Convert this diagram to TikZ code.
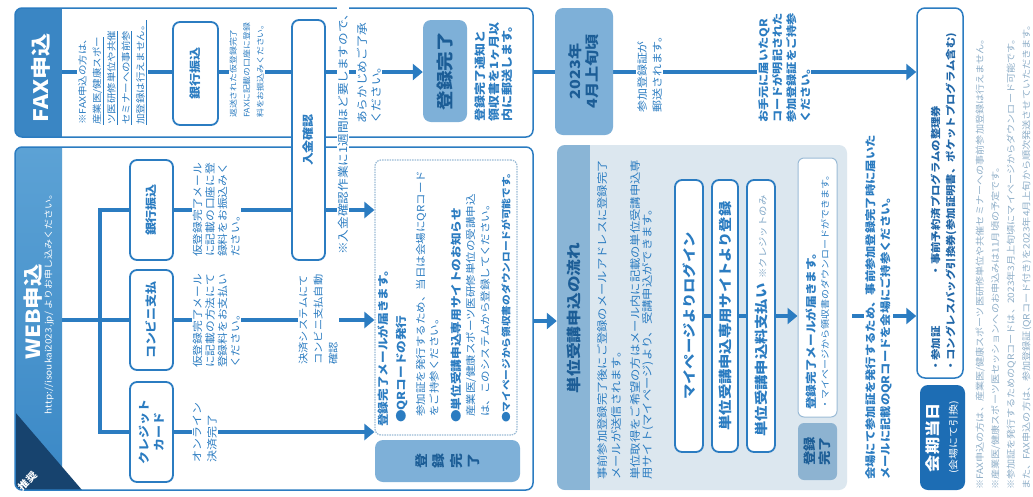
\documentclass[tikz,border=0pt]{standalone}
\usepackage{fontspec}
\setmainfont{Noto Sans CJK JP}[FakeStretch=1.15]
\usetikzlibrary{arrows.meta}
\definecolor{cblue}{HTML}{2B7CC1}
\definecolor{cdark}{HTML}{1C5D96}
\definecolor{cdarkb}{HTML}{2167A8}
\definecolor{cmed}{HTML}{7EB0D8}
\definecolor{cmedb}{HTML}{8DB3D1}
\definecolor{cpanel}{HTML}{DCE7EF}
\definecolor{cthead}{HTML}{8AB5D6}
\definecolor{cfax}{HTML}{3A86C4}
\definecolor{cwebtop}{HTML}{5CA2D5}
\definecolor{cwebbot}{HTML}{3A88C6}
\definecolor{cnavy}{HTML}{17436E}
\definecolor{ckaiki}{HTML}{1D6DB4}
\definecolor{cnote}{HTML}{8EAEC8}
\definecolor{cdot}{HTML}{9BBBD6}
\definecolor{cgray}{HTML}{7FA6C6}
\newcommand\fsz[2]{\fontsize{#1}{#2}\selectfont}
\pgfdeclarelayer{back}
\pgfdeclarelayer{lines}
\pgfsetlayers{back,lines,main}
\tikzset{
  conn/.style={draw=cblue, line width=4.5pt},
  arr/.style={conn, -{Triangle[length=10pt,width=16pt]}},
  para/.style={rotate=90, anchor=north west, inner sep=1pt, align=left, text=cblue, fill=white},
  ln/.style={rotate=90, anchor=west, inner sep=0pt, text=cblue},
  rbox/.style={rotate=90, draw=cblue, line width=1.8pt, rounded corners=7pt, fill=white, text=cblue, font=\fsz{11.3}{15}\bfseries, align=center, inner sep=0pt},
  fbox/.style={rotate=90, fill=cmed, rounded corners=8pt, text=cdark, align=center, inner sep=0pt},
  panel/.style={draw=cblue, line width=1.5pt, rounded corners=7pt, inner sep=0pt},
}
\begin{document}
\begin{tikzpicture}[x=1pt,y=-1pt]
\useasboundingbox (0,0) rectangle (1033,496);
\begin{pgfonlayer}{back}
\fill[white] (0,0) rectangle (1033,496);
% FAX header
\begin{scope}
 \clip[rounded corners=7pt] (15,8) rectangle (533,137);
 \node[fill=cfax, minimum width=47pt, minimum height=129pt, inner sep=0pt] (faxhead) at (38.5,72.5) {};
\end{scope}
% WEB header
\begin{scope}
 \clip[rounded corners=7pt] (15,147) rectangle (533,490);
 \node[top color=cwebtop, bottom color=cwebbot, minimum width=47pt, minimum height=343pt, inner sep=0pt] (webhead) at (38.5,318.5) {};
 \fill[cnavy] (15,412) -- (15,490) -- (82,490) -- cycle;
\end{scope}
% tani panel
\fill[cpanel, rounded corners=8pt] (557,145) rectangle (847,490);
\begin{scope}
 \clip[rounded corners=8pt] (557,145) rectangle (847,490);
 \fill[cthead] (557,145) rectangle (590,490);
\end{scope}
\end{pgfonlayer}

\coordinate (yfax) at (0,72);
\coordinate (ykon) at (0,321);
\coordinate (wjunc) at (100,320);

% panels
\node[panel, minimum width=518pt, minimum height=129pt] (faxpanel) at (274,72.5) {};
\node[panel, minimum width=518pt, minimum height=343pt] (webpanel) at (274,318.5) {};
\node[minimum width=290pt, minimum height=345pt, inner sep=0pt] (tanipanel) at (702,317.5) {};

% header texts
\node[rotate=90, text=white, font=\fsz{20}{22}\bfseries] (faxheadtxt) at (41,78) {FAX申込};
\node[rotate=90, text=white, font=\fsz{19.5}{22}\bfseries] (webheadtxt) at (33,312) {WEB申込};
\node[rotate=90, text=white, font=\fsz{8.7}{10}] (weburl) at (49,302) {http://isoukai2023.jp/ よりお申し込みください。};
\node[rotate=45, text=white, font=\fsz{9.5}{10}\bfseries, inner sep=0pt] (suisho) at (28,481) {推奨};

% ---------- FAX lane
\node[para, font=\fsz{9.1}{14.5}] (faxnote) at (77,126) {※FAX申込の方は、\\\underline{産業医/健康スポー}\\\underline{ツ医研修単位や共催}\\\underline{セミナーへの事前参}\\\underline{加登録は行えません。}};
\node[rbox, minimum width=103pt, minimum height=45pt] (faxbank) at (195.5,73.5) {銀行振込};
\node[para, font=\fsz{7.7}{13.5}] (faxbanktxt) at (228.5,119) {返送された仮登録完了\\FAXに記載の口座に登録\\料をお振込みください。};
\node[rbox, minimum width=240pt, minimum height=33pt] (nyukin) at (308.5,140) {入金確認};
\node[para, font=\fsz{11}{14}] (nnote1) at (337,256) {※入金確認作業に1週間ほど要しますので、};
\node[para, font=\fsz{11}{14}] (nnote2) at (356,125) {あらかじめご了承\\ください。};
\node[fbox, minimum width=102pt, minimum height=44pt, font=\fsz{17}{20}\bfseries] (faxdone) at (445,71) {登録完了};
\node[para, font=\fsz{11.3}{13.5}\bfseries] (faxdonetxt) at (474,123) {登録完了通知と\\領収書を1ヶ月以\\内に郵送します。};
\node[fbox, minimum width=127pt, minimum height=58pt, font=\fsz{14}{17}\bfseries] (y2023) at (584,71.5) {2023年\\4月上旬頃};
\node[para, font=\fsz{10.4}{15}] (sankatxt) at (636,114) {参加登録証が\\郵送されます。};
\node[para, font=\fsz{10.6}{14}\bfseries] (otemoto) at (757,124) {お手元に届いたQR\\コードが明記された\\参加登録証をご持参\\ください。};
\node[draw=cblue, line width=1.5pt, rounded corners=8pt, fill=white, minimum width=46pt, minimum height=370pt, inner sep=0pt] (items) at (940,193) {};
\node[para, font=\fsz{9.9}{15}\bfseries, text=cdarkb] (itemstxt) at (929.5,373) {・参加証\hspace{50pt}・事前予約済プログラムの整理券\\・コングレスバッグ引換券(参加証明書、ポケットプログラム含む)};
\node[fill=ckaiki, rounded corners=8pt, rotate=90, minimum width=105pt, minimum height=45pt, text=white, align=center, inner sep=0pt, font=\fsz{15}{18}\bfseries] (kaiki) at (942.5,437.5) {会期当日\\{\fsz{9.5}{12}\mdseries (会場にて引換)}};
\node[para, font=\fsz{8.8}{15.5}, text=cnote] (notes) at (974.5,491) {※FAX申込の方は、産業医/健康スポーツ医研修単位や共催セミナーへの事前参加登録は行えません。\\※産業医/健康スポーツ医セッションへのお申込みは11月頃の予定です。\\※参加証を発行するためのQRコードは、2023年3月上旬頃にマイページからダウンロード可能です。\\また、FAX申込の方は、参加登録証(QRコード付き)を2023年4月上旬から順次発送させていただきます。};

% ---------- WEB lane
\node[rbox, minimum width=100pt, minimum height=43pt] (wbank) at (151.5,210) {銀行振込};
\node[rbox, minimum width=100pt, minimum height=43pt] (wkon) at (151.5,320) {コンビニ支払};
\node[rbox, minimum width=100pt, minimum height=43pt] (wcred) at (151.5,432) {クレジット\\カード};
\node[para, font=\fsz{10.2}{12.6}] (wbanktxt) at (191.5,258) {仮登録完了メール\\に記載の口座に登\\録料をお振込みく\\ださい。};
\node[para, font=\fsz{10.2}{12.6}] (wkontxt) at (191.5,369) {仮登録完了メール\\に記載の方法にて\\登録料をお支払い\\ください。};
\node[para, font=\fsz{10.4}{15}] (wcredtxt) at (191.5,464) {オンライン\\決済完了};
\node[para, font=\fsz{9.8}{15}] (kessai) at (297.5,366) {決済システムにて\\コンビニ支払自動\\確認};
\node[draw=cdot, line width=1.2pt, dash pattern=on 1.5pt off 1pt, rounded corners=6pt, minimum width=142pt, minimum height=275pt, inner sep=0pt] (regweb) at (446,297.5) {};
\node[ln, font=\fsz{11}{13}\bfseries] (r1) at (383,427) {登録完了メールが届きます。};
\node[ln, font=\fsz{11}{13}\bfseries] (r2) at (402,423) {●QRコードの発行};
\node[ln, font=\fsz{10}{12}] (r3) at (421,417) {参加証を発行するため、当日は会場にQRコード};
\node[ln, font=\fsz{10}{12}] (r4) at (434,417) {をご持参ください。};
\node[ln, font=\fsz{11}{13}\bfseries] (r5) at (456,423) {●単位受講申込専用サイトのお知らせ};
\node[ln, font=\fsz{10}{12}] (r6) at (471,417) {産業医/健康スポーツ医研修単位の受講申込};
\node[ln, font=\fsz{10}{12}] (r7) at (485,417) {は、このシステムから登録してください。};
\node[ln, font=\fsz{9.3}{12}\bfseries] (r8) at (506,423) {●マイページから領収書のダウンロードが可能です。};
\node[fbox, minimum width=42pt, minimum height=145pt, font=\fsz{13}{17.5}\bfseries] (webdone) at (447.5,461) {登\\録\\完\\了};

% ---------- tani panel
\node[rotate=90, text=cdark, font=\fsz{14.5}{16}\bfseries] (tanihead) at (574,318) {単位受講申込の流れ};
\node[para, fill=none, font=\fsz{10.7}{14}] (tanip1) at (596,481) {事前参加登録完了後にご登録のメールアドレスに登録完了\\メールが送信されます。};
\node[para, fill=none, font=\fsz{10.7}{12}] (tanip2) at (629,481) {単位取得をご希望の方はメール内に記載の単位受講申込専\\用サイト(マイページ)より、受講申込ができます。};
\node[rbox, minimum width=272pt, minimum height=28pt, font=\fsz{13.3}{15}\bfseries] (t1) at (689,316) {マイページよりログイン};
\node[rbox, minimum width=272pt, minimum height=26pt, font=\fsz{13.3}{15}\bfseries] (t2) at (725,316) {単位受講申込専用サイトより登録};
\node[rbox, minimum width=272pt, minimum height=28pt, font=\fsz{13.3}{15}\bfseries] (t3) at (761,316) {単位受講申込料支払い\hspace{5pt}{\fsz{9}{11}\mdseries\color{cgray}※クレジットのみ}};
\node[draw=cdot, line width=1pt, fill=white, rounded corners=6pt, minimum width=39pt, minimum height=259pt, inner sep=0pt] (tanireg) at (817.5,287.5) {};
\node[ln, font=\fsz{11}{13}\bfseries] (tr1) at (811,410) {登録完了メールが届きます。};
\node[ln, font=\fsz{8.7}{10}] (tr2) at (825,410) {・マイページから領収書のダウンロードができます。};
\node[fbox, fill=cmedb, rounded corners=6pt, minimum width=57pt, minimum height=39pt, font=\fsz{12.5}{14.5}\bfseries] (tanidone) at (817.5,451.5) {登録\\完了};
\node[para, font=\fsz{10.7}{15}\bfseries] (kaijo) at (864,481) {会場にて参加証を発行するため、事前参加登録完了時に届いた\\メールに記載のQRコードを会場にご持参ください。};

% ---------- connectors
\begin{pgfonlayer}{lines}
\draw[conn] (faxhead.east |- yfax) -- (faxbank.north |- yfax);
\draw[conn] (faxbank.south |- yfax) -- (nyukin.north |- yfax);
\draw[arr] (nyukin.south |- yfax) -- (faxdone.north |- yfax);
\draw[conn] (faxpanel.east |- yfax) -- (y2023.north |- yfax);
\draw[arr] (y2023.south |- yfax) -- (items.west |- yfax);
\draw[conn] (webhead.east |- wjunc) -- (wjunc);
\draw[conn] (wbank.north) -| (wjunc);
\draw[conn] (wcred.north) -| (wjunc);
\draw[conn] (wkon.north) -- (wjunc);
\draw[conn] (wbank.south) -- (nyukin.north |- wbank.south);
\draw[arr] (nyukin.south |- wbank.south) -- (regweb.west |- wbank.south);
\draw[arr] (wkon.south) -- (regweb.west |- wkon.south);
\draw[arr] (wcred.south) -- (regweb.west |- wcred.south);
\draw[arr] (webpanel.east |- ykon) -- (tanipanel.west |- ykon);
\draw[conn] (t1.south) -- (t2.north);
\draw[conn] (t2.south) -- (t3.north);
\draw[arr] (t3.south) -- (tanireg.west |- t3.south);
\path (tanipanel.east |- t3.south) ++(5,0) coordinate (tstart);
\draw[arr] (tstart) -- (items.west |- tstart);
\end{pgfonlayer}
\end{tikzpicture}
\end{document}
